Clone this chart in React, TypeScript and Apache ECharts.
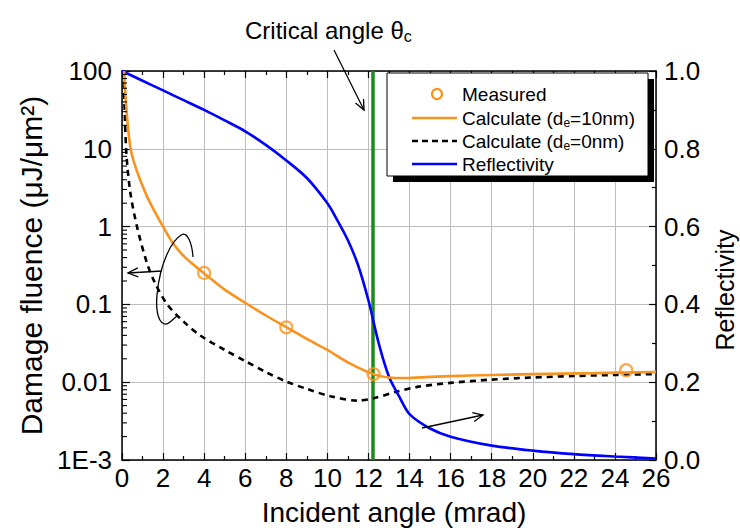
import React, { useEffect, useRef } from 'react';
import * as echarts from 'echarts';

const FONT = '"Liberation Sans", Arial, Helvetica, sans-serif';

// ---- data ----
const leftTickLabels = ['1E-3', '0.01', '0.1', '1', '10', '100'];
const leftMinorTicks = [
  0.002, 0.003, 0.004, 0.005, 0.006, 0.007, 0.008, 0.009,
  0.02, 0.03, 0.04, 0.05, 0.06, 0.07, 0.08, 0.09,
  0.2, 0.3, 0.4, 0.5, 0.6, 0.7, 0.8, 0.9,
  2, 3, 4, 5, 6, 7, 8, 9,
  20, 30, 40, 50, 60, 70, 80, 90,
];

const calc10X = [0.1, 0.25, 0.42, 0.7, 1.2, 1.6, 2.0, 2.5, 3.0, 3.5, 4, 5, 6, 7, 8, 9, 10, 11, 12.2, 13, 13.8, 15, 17, 20, 23, 26];
const calc10Y = [100, 25, 10, 5.4, 2.5, 1.55, 1.0, 0.6, 0.42, 0.32, 0.25, 0.155, 0.105, 0.072, 0.051, 0.036, 0.026, 0.018, 0.0128, 0.0115, 0.0113, 0.0117, 0.0122, 0.0127, 0.0131, 0.0135];

const calc0X = [0.08, 0.2, 0.4, 0.73, 1.2, 1.6, 2.2, 3.0, 3.8, 5, 6, 7, 8, 9, 10.15, 11.45, 12.24, 13.4, 14.37, 16, 18, 20, 22, 24, 26];
const calc0Y = [100, 10, 2.8, 1.0, 0.35, 0.19, 0.1, 0.06, 0.04, 0.026, 0.0187, 0.0135, 0.0102, 0.0082, 0.0066, 0.0058, 0.0062, 0.0076, 0.0087, 0.0098, 0.0108, 0.0115, 0.012, 0.0124, 0.0127];

const reflX = [0, 1, 2, 3, 4, 5, 6, 7, 8, 9, 10, 10.5, 11, 11.5, 12, 12.5, 13, 13.5, 14, 15, 16, 18, 20, 22, 24, 26];
const reflY = [1.0, 0.975, 0.95, 0.925, 0.9, 0.873, 0.845, 0.81, 0.77, 0.725, 0.66, 0.615, 0.565, 0.5, 0.41, 0.3, 0.214, 0.163, 0.118, 0.081, 0.06, 0.037, 0.024, 0.015, 0.009, 0.004];

const measuredX = [4, 8, 12.25, 24.55];
const measuredY = [0.254, 0.0507, 0.0127, 0.01425];

const criticalAngle = 12.2;

// ---- annotation shapes ----
const LOOP_D = 'M193,257 C192,242 187,232 182,234.5 C172,240 160,262 157,295 C155,318 162,329 170,322 L177,316';
echarts.graphic.registerShape('loopCurve', echarts.graphic.extendPath(LOOP_D, {}));

function arrow(x1: number, y1: number, x2: number, y2: number) {
  const head = 11;
  const ang = 0.42;
  const a = Math.atan2(y2 - y1, x2 - x1);
  const p1 = [x2 - head * Math.cos(a - ang), y2 - head * Math.sin(a - ang)];
  const p2 = [x2 - head * Math.cos(a + ang), y2 - head * Math.sin(a + ang)];
  return [
    { type: 'line', shape: { x1, y1, x2, y2 }, style: { stroke: '#000', lineWidth: 1.3 }, z: 100 },
    { type: 'polyline', shape: { points: [p1, [x2, y2], p2] }, style: { stroke: '#000', lineWidth: 1.3, fill: 'none' }, z: 100 },
  ];
}

const ORANGE = '#f7931e';
const BLUE = '#0000ff';
const GREEN = '#1a8c1a';

export default function App() {
  const ref = useRef<HTMLDivElement>(null);
  useEffect(() => {
    if (!ref.current) return;
    const chart = echarts.init(ref.current, null, { renderer: 'svg' });

    const axisLine = { show: true, onZero: false, lineStyle: { color: '#000', width: 1.5 } };
    const labelStyle = { color: '#000', fontSize: 26, fontFamily: FONT };

    const lx = 387, ly = 73, lw = 261, lh = 103;
    const legendText = (y: number, text: string) => ({
      type: 'text', z: 102,
      style: {
        text, x: 462, y, fill: '#000', fontSize: 19, fontFamily: FONT, verticalAlign: 'middle', lineHeight: 22,
        rich: { s: { fontSize: 12, lineHeight: 12, verticalAlign: 'bottom', fontFamily: FONT, fill: '#000' } },
      },
    });

    const option: any = {
      animation: false,
      backgroundColor: '#fff',
      grid: { left: 122, right: 84, top: 71, bottom: 67, containLabel: false },
      xAxis: [
        {
          type: 'value', min: 0, max: 26, interval: 2, position: 'bottom',
          axisLine,
          axisTick: { show: true, inside: true, length: 7, lineStyle: { color: '#000', width: 1.2 } },
          minorTick: { show: true, splitNumber: 2, length: 4, lineStyle: { color: '#000', width: 1.2 } },
          splitLine: { show: true, lineStyle: { color: '#bdbdbd', width: 1 } },
          axisLabel: { ...labelStyle, margin: 5 },
          name: 'Incident angle (mrad)', nameLocation: 'middle', nameGap: 38,
          nameTextStyle: { color: '#000', fontSize: 28, fontFamily: FONT, padding: [0, 0, 0, 10] },
        },
        {
          type: 'value', min: 0, max: 26, interval: 2, position: 'top',
          axisLine,
          axisTick: { show: true, inside: true, length: 7, lineStyle: { color: '#000', width: 1.2 } },
          minorTick: { show: true, splitNumber: 2, length: 4, lineStyle: { color: '#000', width: 1.2 } },
          splitLine: { show: false },
          axisLabel: { show: false },
        },
      ],
      yAxis: [
        {
          type: 'log', logBase: 10, min: 0.001, max: 100, position: 'left',
          axisLine,
          axisTick: { show: true, inside: true, length: 8, lineStyle: { color: '#000', width: 1.2 } },
          splitLine: { show: true, lineStyle: { color: '#bdbdbd', width: 1 } },
          axisLabel: {
            ...labelStyle, margin: 10,
            formatter: (v: number) => leftTickLabels[Math.round(Math.log10(v)) + 3] ?? '',
          },
          name: 'Damage fluence (μJ/μm²)', nameLocation: 'middle', nameGap: 65, nameRotate: 90,
          nameTextStyle: { color: '#000', fontSize: 30, fontFamily: FONT },
        },
        {
          type: 'value', min: 0, max: 1, interval: 0.2, position: 'right',
          axisLine,
          axisTick: { show: true, inside: true, length: 7, lineStyle: { color: '#000', width: 1.2 } },
          minorTick: { show: true, splitNumber: 2, length: 4, lineStyle: { color: '#000', width: 1.2 } },
          splitLine: { show: false },
          axisLabel: { ...labelStyle, margin: 8, formatter: (v: number) => v.toFixed(1) },
        },
      ],
      series: [
        {
          name: 'Calculate (de=0nm)', type: 'line', xAxisIndex: 0, yAxisIndex: 0,
          data: calc0X.map((x, i) => [x, calc0Y[i]]),
          smooth: 0.3, showSymbol: false, symbol: 'none',
          lineStyle: { color: '#000', width: 2.6, type: [6, 5] }, z: 3,
        },
        {
          name: 'Reflectivity', type: 'line', xAxisIndex: 0, yAxisIndex: 1,
          data: reflX.map((x, i) => [x, reflY[i]]),
          smooth: 0.3, showSymbol: false, symbol: 'none',
          lineStyle: { color: BLUE, width: 2.6 }, z: 4,
          markLine: {
            silent: true, symbol: 'none', label: { show: false },
            lineStyle: { color: GREEN, width: 3.5, type: 'solid' },
            data: [{ xAxis: criticalAngle }],
            z: 2,
          },
        },
        {
          name: 'Calculate (de=10nm)', type: 'line', xAxisIndex: 0, yAxisIndex: 0,
          data: calc10X.map((x, i) => [x, calc10Y[i]]),
          smooth: 0.3, showSymbol: false, symbol: 'none',
          lineStyle: { color: ORANGE, width: 2.6 }, z: 5,
        },
        {
          name: 'Measured', type: 'scatter', xAxisIndex: 0, yAxisIndex: 0,
          data: measuredX.map((x, i) => [x, measuredY[i]]),
          symbol: 'circle', symbolSize: 12,
          itemStyle: { color: 'rgba(255,255,255,0)', borderColor: ORANGE, borderWidth: 2.2 }, z: 6,
        },
        {
          name: 'minorTicks', type: 'custom', xAxisIndex: 0, yAxisIndex: 0, silent: true,
          data: leftMinorTicks.map((v) => [0, v]),
          encode: { x: 0, y: 1 },
          clip: false, z: 10,
          renderItem: (params: any, api: any) => {
            const p = api.coord([0, api.value(1)]);
            return {
              type: 'line',
              shape: { x1: p[0], y1: p[1], x2: p[0] + 5, y2: p[1] },
              style: { stroke: '#000', lineWidth: 1.1 },
            };
          },
        },
      ],
      graphic: [
        // right axis title
        {
          type: 'text', x: 725, y: 290, rotation: Math.PI / 2, z: 100,
          style: { text: 'Reflectivity', fill: '#000', fontSize: 25, fontFamily: FONT, align: 'center', verticalAlign: 'middle' },
        },
        // legend
        { type: 'rect', shape: { x: lx + 6, y: ly + 6, width: lw, height: lh }, style: { fill: '#000' }, z: 100 },
        { type: 'rect', shape: { x: lx, y: ly, width: lw, height: lh }, style: { fill: '#fff', stroke: '#000', lineWidth: 1 }, z: 101 },
        { type: 'circle', shape: { cx: 437, cy: 94, r: 5 }, style: { fill: '#fff', stroke: ORANGE, lineWidth: 2.2 }, z: 102 },
        legendText(94, 'Measured'),
        { type: 'line', shape: { x1: 412, y1: 118, x2: 457, y2: 118 }, style: { stroke: ORANGE, lineWidth: 2.6 }, z: 102 },
        legendText(118, 'Calculate (d{s|e}=10nm)'),
        { type: 'line', shape: { x1: 412, y1: 141, x2: 457, y2: 141 }, style: { stroke: '#000', lineWidth: 2.6, lineDash: [6, 4] }, z: 102 },
        legendText(141, 'Calculate (d{s|e}=0nm)'),
        { type: 'line', shape: { x1: 412, y1: 164, x2: 457, y2: 164 }, style: { stroke: BLUE, lineWidth: 2.6 }, z: 102 },
        legendText(164, 'Reflectivity'),
        // critical angle label
        {
          type: 'text', z: 100,
          style: {
            text: 'Critical angle θ{s|c}', x: 245, y: 30, fill: '#000', fontSize: 24, fontFamily: FONT,
            verticalAlign: 'middle', lineHeight: 28,
            rich: { s: { fontSize: 16, lineHeight: 16, verticalAlign: 'bottom', fontFamily: FONT, fill: '#000' } },
          },
        },
        ...arrow(334, 50, 364, 110),
        ...arrow(162, 271, 128, 273),
        ...arrow(422, 428, 483, 415),
        { type: 'loopCurve', x: 0, y: 0, style: { stroke: '#000', lineWidth: 1.3, fill: 'none' }, z: 100 },
      ],
    };

    chart.setOption(option);
    return () => chart.dispose();
  }, []);
  return (
    <div
      ref={ref}
      style={{ position: 'fixed', left: 0, top: 0, width: 740, height: 531, background: '#fff' }}
    />
  );
}
